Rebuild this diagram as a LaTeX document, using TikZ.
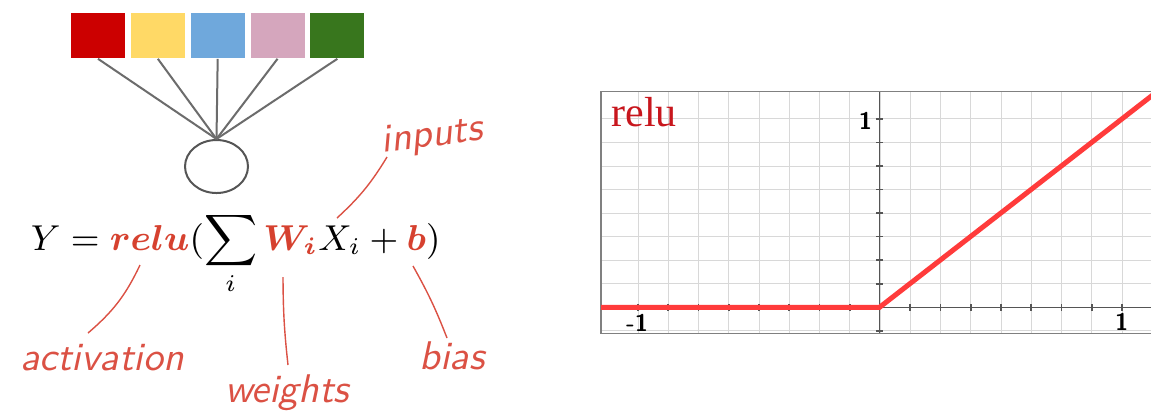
\documentclass[tikz,border=0pt]{standalone}
\usepackage{amsmath, amssymb, bm}
\usepackage{fontspec}
\usepackage{tikz}
\usetikzlibrary{positioning,shapes.geometric,calc}
\newfontfamily\plotserif{Liberation Serif}
\definecolor{sqred}{HTML}{CC0000}
\definecolor{sqyellow}{HTML}{FFD966}
\definecolor{sqblue}{HTML}{6FA8DC}
\definecolor{sqpink}{HTML}{D5A6BD}
\definecolor{sqgreen}{HTML}{38761D}
\definecolor{eqred}{HTML}{D6412F}
\definecolor{notered}{HTML}{DB5144}
\definecolor{curvered}{HTML}{FF3B3B}
\definecolor{gridgray}{HTML}{D8D8D8}
\definecolor{axisgray}{HTML}{555555}
\definecolor{titlered}{HTML}{C8161D}
\tikzstyle{cell} = [rectangle, minimum width=13.5pt, minimum height=11.25pt, inner sep=0pt]
\tikzstyle{neuron} = [ellipse, minimum width=15.75pt, minimum height=13.25pt, inner sep=0pt, draw=axisgray, line width=0.5pt]
\tikzstyle{wire} = [draw=gray!85!black, line width=0.5pt]
\tikzstyle{note} = [text=notered, inner sep=0pt, font=\fontsize{10}{12}\sffamily\itshape]
\tikzstyle{pointer} = [draw=notered, line width=0.35pt]
\tikzstyle{ticklabel} = [inner sep=0pt, font=\fontsize{6}{7}\sffamily\bfseries]

\begin{document}
\begin{tikzpicture}[x=0.25pt, y=-0.25pt, node distance=1.06pt]
\useasboundingbox (0,0) rectangle (1151,410);
\fill[white] (0,0) rectangle (1151,410);

% inputs and neuron
\node (in1) [cell, fill=sqred] at (98,35.5) {};
\node (in2) [cell, fill=sqyellow, right=of in1] {};
\node (in3) [cell, fill=sqblue, right=of in2] {};
\node (in4) [cell, fill=sqpink, right=of in3] {};
\node (in5) [cell, fill=sqgreen, right=of in4] {};
\node (unit) [neuron] at (216.5,166.5) {};
\foreach \i in {1,...,5}
  \draw [wire] (in\i.south) -- (unit.north);

% formula
\node (eq) [anchor=base west, inner sep=0pt, font=\fontsize{8.95}{11}\selectfont] at (30,250)
  {$Y = \textcolor{eqred}{\boldsymbol{relu}}(\displaystyle\sum_i \textcolor{eqred}{\boldsymbol{W_i}} X_i + \textcolor{eqred}{\boldsymbol{b}})$};

% notes
\node (inputs) [note, rotate=7] at (432,137) {inputs};
\node (activation) [note] at (102,358) {activation};
\node (weights) [note] at (287,393) {weights};
\node (bias) [note] at (452,356) {bias};
\coordinate (inA) at (387,157);
\coordinate (inB) at (337,218);
\coordinate (actA) at (140,265);
\coordinate (actB) at (88,333);
\coordinate (wA) at (283,277);
\coordinate (wB) at (288,365);
\coordinate (bA) at (413,266);
\coordinate (bB) at (447,338);
\draw [pointer] (inA) to[bend left=8] (inB);
\draw [pointer] (actA) to[bend left=12] (actB);
\draw [pointer] (wA) to[bend right=3] (wB);
\draw [pointer] (bA) to[bend left=4] (bB);

% relu plot
\begin{scope}
\clip (595,85) rectangle (1151,340);
\foreach \k in {-8,...,9}
  \draw [gridgray, line width=0.25pt] (880+\k*30.25,91.5) -- (880+\k*30.25,333.5);
\foreach \j in {-1,...,8}
  \draw [gridgray, line width=0.25pt] (601,307.3-\j*23.55) -- (1160,307.3-\j*23.55);
\draw [axisgray, line width=0.4pt] (879.5,91.5) -- (879.5,333.5);
\draw [axisgray, line width=0.4pt] (601,307.3) -- (1160,307.3);
\foreach \j in {-1,1,2,...,8}
  \draw [axisgray, line width=0.4pt] (876,307.3-\j*23.55) -- (883,307.3-\j*23.55);
\foreach \k in {-8,...,-1,1,2,...,9}
  \draw [axisgray, line width=0.4pt] (880+\k*30.25,304) -- (880+\k*30.25,310.5);
\draw [gray, line width=0.4pt] (1160,91.5) -- (601,91.5) -- (601,333.5) -- (1160,333.5);
\draw [curvered, line width=1.25pt] (601,307.3) -- (879.5,307.3) -- (1160,89.3);
\end{scope}
\node (title) [text=titlered, inner sep=0pt, font=\fontsize{10.5}{12}\plotserif] at (644,112) {relu};
\node (ylab) [ticklabel] at (865.5,121) {1};
\node (xlabl) [ticklabel] at (637,323) {-1};
\node (xlabr) [ticklabel] at (1121.7,322) {1};

\end{tikzpicture}
\end{document}
